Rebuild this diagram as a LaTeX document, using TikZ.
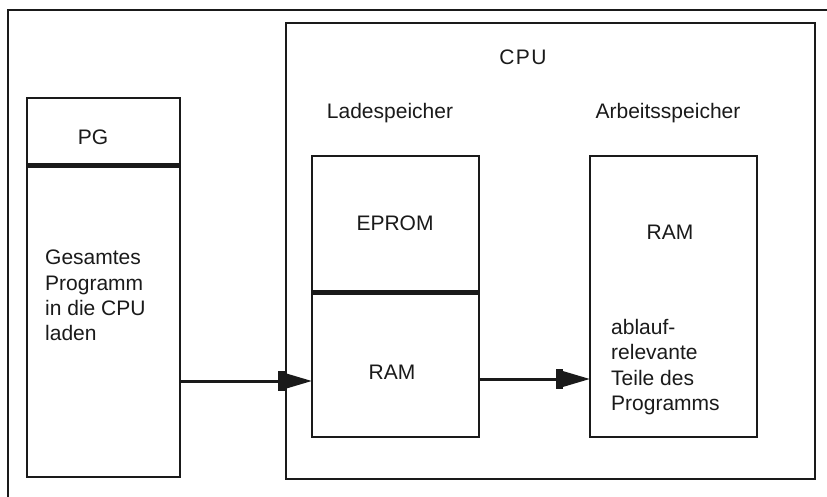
\documentclass[tikz,border=0pt]{standalone}
\usepackage{fontspec}
\setmainfont{Liberation Sans}
\usetikzlibrary{arrows.meta}
\definecolor{ink}{HTML}{1A1A1A}
\begin{document}
\begin{tikzpicture}[x=1pt,y=-1pt,
  font=\fontsize{21}{25.3}\selectfont, text=ink,
  box/.style={draw=ink, line width=1.5pt, inner sep=0pt, outer sep=0pt},
  frameline/.style={draw=ink, line width=1.5pt},
  sepline/.style={draw=ink, line width=5pt},
  lbl/.style={anchor=base, inner sep=0pt},
  para/.style={anchor=north west, align=left, inner sep=0pt},
  arr/.style={draw=ink, line width=3pt,
    -{Rectangle[length=7pt,width=20pt,sep=0pt]Triangle[length=27pt,width=15pt]}}
]
\useasboundingbox (0,0) rectangle (827,497);
\fill[white] (0,0) rectangle (827,497);
% outer frame (only top and left edges visible)
\draw[frameline] (830,10) -- (8,10) -- (8,500);

% boxes
\node[box, minimum width=529pt, minimum height=456pt] (cpu) at (550.5,251) {};
\node[box, minimum width=153pt, minimum height=379pt] (pg) at (103.5,287.5) {};
\node[box, minimum width=167pt, minimum height=281pt] (lade) at (395.5,296.5) {};
\node[box, minimum width=167pt, minimum height=281pt] (arb) at (673.5,296.5) {};

% separators
\coordinate (s1) at (0,166);
\coordinate (s2) at (0,292);
\draw[sepline] (pg.west |- s1) -- (pg.east |- s1);
\draw[sepline] (lade.west |- s2) -- (lade.east |- s2);

% labels
\node[lbl] (cpulbl) at (523,65) {C\kern1.5pt P\kern1.5pt U};
\node[lbl] (pglbl) at (93,145) {PG};
\node[lbl] (ladelbl) at (390,119) {Ladespeicher};
\node[lbl] (arblbl) at (668,119) {Arbeitsspeicher};
\node[lbl] (eprom) at (395,230) {EPROM};
\node[lbl] (ram1) at (392,379) {RAM};
\node[lbl] (ram2) at (670,240) {RAM};
\node[para] (pgtext) at (45,250) {Gesamtes\\Programm\\in die CPU\\laden};
\node[para] (arbtext) at (611,319) {ablauf-\\relevante\\Teile des\\Programms};

% arrows
\coordinate (a1) at (0,381);
\coordinate (a2) at (0,379);
\draw[arr] (pg.east |- a1) -- (lade.west |- a1);
\draw[arr] (lade.east |- a2) -- (arb.west |- a2);
\end{tikzpicture}
\end{document}
